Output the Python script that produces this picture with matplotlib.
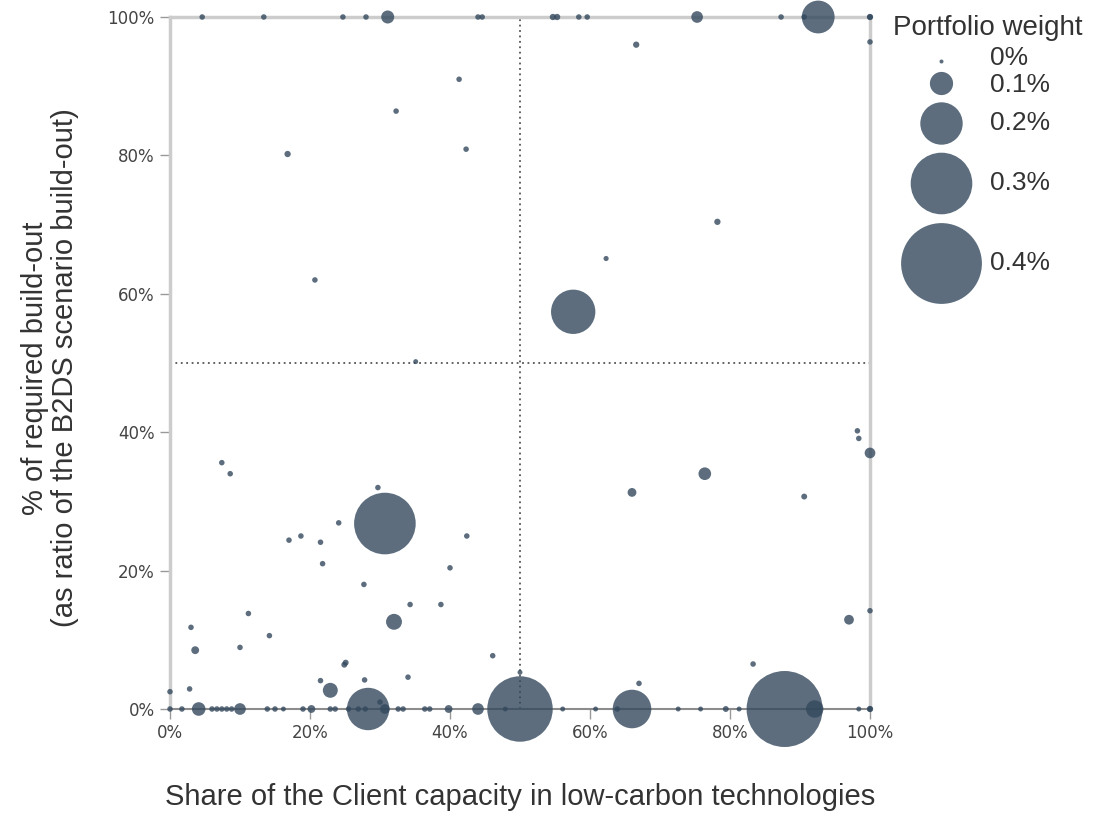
import matplotlib
matplotlib.use('Agg')
import matplotlib.pyplot as plt
from matplotlib.ticker import FuncFormatter

# share of low-carbon capacity (%), build-out ratio (%), portfolio weight (%)
share = [4.6, 13.4, 24.7, 28.0, 31.1, 44.0, 44.6, 54.7, 55.3, 58.4, 59.6, 75.3,
         87.3, 90.6, 92.6, 100, 100,
         66.6, 100, 41.3, 32.3, 16.8, 42.3, 78.2, 62.3, 20.7, 57.6, 35.1,
         98.2, 98.4, 100, 76.4, 66.0, 90.6, 100, 97.0,
         7.4, 8.6, 29.7, 30.7, 24.1, 17.0, 18.7, 21.5, 42.4, 21.8, 40.0, 27.7,
         34.3, 38.7, 11.2, 32.0, 3.0, 14.2, 3.6, 10.0, 0, 2.8, 21.5, 22.9,
         24.9, 25.1, 27.8, 34.0, 46.1, 30.0, 50.0, 67.0, 83.3,
         0, 1.7, 4.1, 6.0, 6.7, 7.4, 8.1, 8.8, 10.0, 13.9, 15.0, 16.2, 19.0,
         20.2, 22.9, 23.6, 25.5, 26.9, 27.9, 28.3, 30.7, 32.6, 33.3, 36.4,
         37.1, 39.8, 44.0, 47.9, 50.0, 56.1, 60.8, 63.9, 66.0, 72.6, 75.8,
         79.4, 81.3, 87.8, 92.1, 98.4, 100, 100]
buildout = [100] * 17 + \
    [96.0, 96.4, 91.0, 86.4, 80.2, 80.9, 70.4, 65.1, 62.0, 57.4, 50.2,
     40.2, 39.1, 37.0, 34.0, 31.3, 30.7, 14.2, 12.9,
     35.6, 34.0, 32.0, 26.8, 26.9, 24.4, 25.0, 24.1, 25.0, 21.0, 20.4, 18.0,
     15.1, 15.1, 13.8, 12.6, 11.8, 10.6, 8.5, 8.9, 2.5, 2.9, 4.1, 2.7,
     6.4, 6.7, 4.2, 4.6, 7.7, 1.0, 5.3, 3.7, 6.5] + [0] * 42
weight = [0.008, 0.008, 0.008, 0.008, 0.047, 0.008, 0.008, 0.012, 0.012, 0.008,
          0.008, 0.04, 0.008, 0.008, 0.15, 0.012, 0.008,
          0.012, 0.008, 0.008, 0.008, 0.012, 0.008, 0.012, 0.006, 0.008, 0.21, 0.005,
          0.008, 0.008, 0.035, 0.045, 0.025, 0.01, 0.008, 0.03,
          0.008, 0.008, 0.008, 0.30, 0.008, 0.008, 0.008, 0.008, 0.008, 0.008,
          0.008, 0.008, 0.008, 0.008, 0.008, 0.062, 0.008, 0.008, 0.02, 0.008,
          0.008, 0.008, 0.008, 0.057, 0.01, 0.01, 0.008, 0.008, 0.008, 0.008,
          0.005, 0.008, 0.008,
          0.008, 0.008, 0.05, 0.008, 0.008, 0.008, 0.008, 0.008, 0.04, 0.008,
          0.008, 0.005, 0.008, 0.02, 0.008, 0.008, 0.008, 0.008, 0.008, 0.20,
          0.03, 0.008, 0.008, 0.008, 0.008, 0.02, 0.04, 0.005, 0.32, 0.005,
          0.005, 0.008, 0.18, 0.005, 0.005, 0.01, 0.005, 0.375, 0.07, 0.005,
          0.012, 0.008]

legend_weights = [0, 0.1, 0.2, 0.3, 0.4]
legend_labels = ['0%', '0.1%', '0.2%', '0.3%', '0.4%']

DPI = 100
COLOR = '#34495e'


def radius_px(w):
    return 2 + 96 * w


def marker_size(w):
    return (2 * radius_px(w) * 72 / DPI) ** 2


fig = plt.figure(figsize=(11, 8.13), dpi=DPI)
ax = fig.add_axes([170 / 1100, 104 / 813, 700 / 1100, 692 / 813])

ax.scatter(share, buildout, s=[marker_size(w) for w in weight],
           color=COLOR, alpha=0.8, linewidths=0, clip_on=False, zorder=4)

ax.axvline(50, color='#555555', ls=(0, (1, 2)), lw=1.3, zorder=1)
ax.axhline(50, color='#555555', ls=(0, (1, 2)), lw=1.3, zorder=1)

ax.set_xlim(0, 100)
ax.set_ylim(0, 100)
ax.set_xticks(range(0, 101, 20))
ax.set_yticks(range(0, 101, 20))
pct = FuncFormatter(lambda v, p: f'{v:.0f}%')
ax.xaxis.set_major_formatter(pct)
ax.yaxis.set_major_formatter(pct)
ax.tick_params(length=7, width=1, color='#999999', labelsize=12,
               labelcolor='#444444', pad=4)

for side in ['top', 'right', 'left']:
    ax.spines[side].set_color('#cccccc')
    ax.spines[side].set_linewidth(2.5)
ax.spines['bottom'].set_color('#8c8c8c')
ax.spines['bottom'].set_linewidth(1.5)

title_font = dict(family=['Liberation Sans', 'DejaVu Sans'], color='#333333')
fig.text(520 / 1100, 1 - 797 / 813,
         'Share of the Client capacity in low-carbon technologies',
         ha='center', va='center', fontsize=21, **title_font)
fig.text(50 / 1100, 1 - 368 / 813,
         '% of required build-out\n(as ratio of the B2DS scenario build-out)',
         ha='center', va='center', rotation=90, fontsize=21,
         multialignment='center', linespacing=1.05, **title_font)

# size legend
lg = fig.add_axes([0, 0, 1, 1], facecolor='none')
lg.set_xlim(0, 1100)
lg.set_ylim(813, 0)
lg.axis('off')
lg.text(893, 28, 'Portfolio weight', ha='left', va='center', fontsize=20,
        **title_font)
label_shift = [-3, 2, 0, 0, 0]
y = 61
prev_r = None
for w, lab, dy in zip(legend_weights, legend_labels, label_shift):
    r = radius_px(w)
    if prev_r is not None:
        y += prev_r + r + 8
    lg.scatter([941], [y], s=marker_size(w), color=COLOR, alpha=0.8,
               linewidths=0, clip_on=False)
    lg.text(990, y + dy, lab, ha='left', va='center', fontsize=19, **title_font)
    prev_r = r

fig.savefig('out.png', dpi=DPI)
